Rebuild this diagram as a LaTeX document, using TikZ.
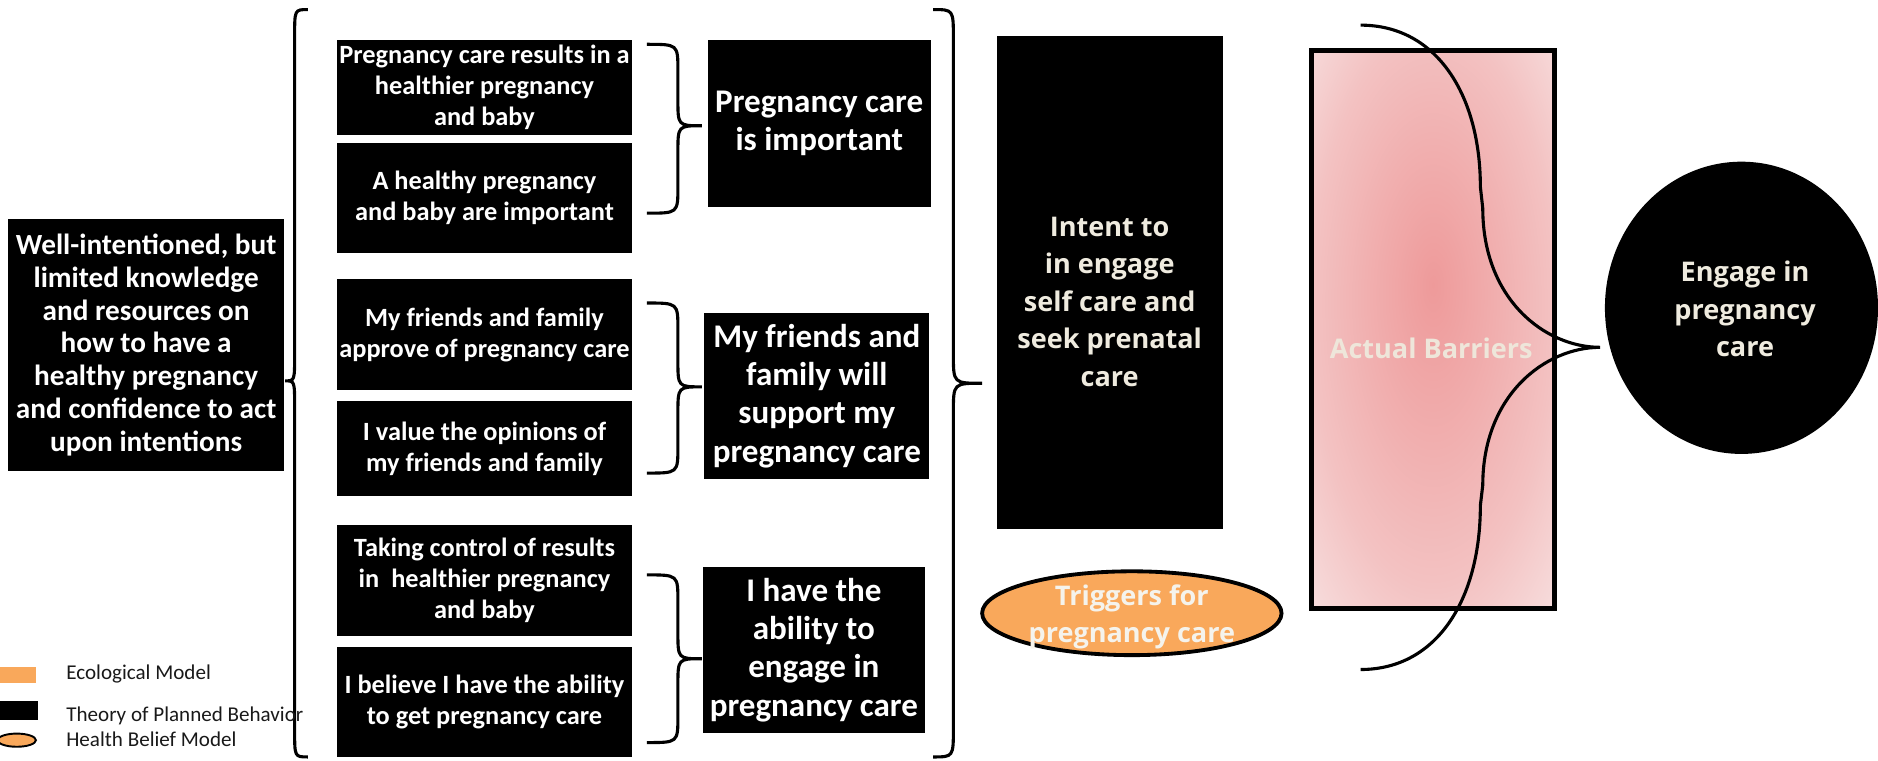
\documentclass[tikz,border=0pt]{standalone}
\usepackage{fontspec}
\setmainfont{Carlito}
\newfontfamily\osans{Open Sans}
\usetikzlibrary{shapes.geometric}
\definecolor{cream}{HTML}{EFEBDF}
\definecolor{orng}{HTML}{F9A85B}
\definecolor{pinkin}{HTML}{EE9A9A}
\definecolor{pinkmid}{HTML}{F1B0B0}
\definecolor{pinkedge}{HTML}{F3C2C2}
\definecolor{pinkout}{HTML}{F7DCDC}
\definecolor{bartext}{HTML}{EEE6DA}
\pgfdeclareradialshading{barrshade}{\pgfpoint{0bp}{4bp}}{color(0bp)=(pinkin); color(14bp)=(pinkmid); color(25bp)=(pinkedge); color(36bp)=(pinkout); color(50bp)=(pinkout)}
\newcommand{\DrawBrace}[7]{\draw[brc] (#1,#4) .. controls (#2,#4) .. (#2,#4+#7) -- (#2,#5-#7) .. controls (#2,#5) .. (#3,#5) .. controls (#2,#5) .. (#2,#5+#7) -- (#2,#6-#7) .. controls (#2,#6) .. (#1,#6);}
\begin{document}
\begin{tikzpicture}[x=0.5pt,y=-0.5pt,
  blk/.style={fill=black, draw=none, inner sep=0pt, align=center, text=white},
  lefttxt/.style={font=\fontsize{12.2}{13.7}\selectfont\bfseries},
  smalltxt/.style={font=\fontsize{11}{13}\selectfont\bfseries, minimum width=123.5pt},
  midtxt/.style={font=\fontsize{13.8}{16}\selectfont\bfseries},
  ostxt/.style={font=\fontsize{11.3}{15.6}\osans\bfseries, text=cream, align=center, inner sep=0pt},
  brc/.style={draw=black, line width=1.3pt},
  legtxt/.style={font=\fontsize{8.8}{10}\selectfont, text=black!90, anchor=west, inner sep=0pt}
]
\useasboundingbox (0,0) rectangle (1568,635);

% left box
\node[blk, lefttxt, minimum width=115pt, minimum height=105pt] (know) at (122,288)
  {Well-intentioned, but\\limited knowledge\\and resources on\\how to have a\\healthy pregnancy\\and confidence to act\\upon intentions};

% small boxes
\node[blk, smalltxt, minimum height=40pt] (b1) at (404.5,73) {Pregnancy care results in a\\healthier pregnancy\\and baby};
\node[blk, smalltxt, minimum height=46pt] (b2) at (404.5,165) {A healthy pregnancy\\and baby are important};
\node[blk, smalltxt, minimum height=46.5pt] (b3) at (404.5,279.5) {My friends and family\\approve of pregnancy care};
\node[blk, smalltxt, minimum height=39.5pt] (b4) at (404.5,374.5) {I value the opinions of\\my friends and family};
\node[blk, smalltxt, minimum height=46.5pt] (b5) at (404.5,484.5) {Taking control of results\\in\ \ healthier pregnancy\\and baby};
\node[blk, smalltxt, minimum height=46pt] (b6) at (404.5,586) {I believe I have the ability\\to get pregnancy care};

% middle boxes
\node[blk, midtxt, minimum width=93pt, minimum height=70pt] (m1) at (684,103) {Pregnancy care\\is important};
\node[blk, midtxt, minimum width=94pt, minimum height=69.5pt] (m2) at (682,330.5) {My friends and\\family will\\support my\\pregnancy care};
\node[blk, midtxt, minimum width=92.5pt, minimum height=69.5pt] (m3) at (679.5,542.5) {I have the\\ability to\\engage in\\pregnancy care};

% intent
\node[blk, minimum width=94.5pt, minimum height=206pt] (intent) at (926.5,236) {};
\node[ostxt] (intenttxt) at (926.5,252) {Intent to\\in engage\\self care and\\seek prenatal\\care};

% triggers
\node[ellipse, fill=orng, draw=black, line width=1.6pt, minimum width=125pt, minimum height=35pt, inner sep=0pt] (trig) at (945,512) {};
\node[ostxt, text=cream!60!white] (trigtxt) at (945,515) {Triggers for\\pregnancy care};

% barriers
\node[draw=black, line width=2pt, shading=barrshade, minimum width=101.5pt, minimum height=233pt, inner sep=0pt] (barr) at (1196.5,275) {};
\node[ostxt, text=bartext] (barrtxt) at (1195,291) {Actual Barriers};

% engage
\node[ellipse, fill=black, minimum width=114pt, minimum height=122pt, inner sep=0pt] (engage) at (1454,257) {};
\node[ostxt] (engtxt) at (1457,258) {Engage in\\pregnancy\\care};

% braces
\DrawBrace{257}{246}{238}{8}{318}{632}{22}
\DrawBrace{540}{566}{586}{37}{105}{178}{22}
\DrawBrace{540}{566}{586}{253}{323}{395}{22}
\DrawBrace{540}{566}{586}{480}{550}{620}{22}
\DrawBrace{779}{796}{820}{8}{320}{632}{24}
\draw[brc] (1136,21) .. controls (1200,21) and (1236,80) .. (1236,156) -- (1238,174)
  .. controls (1238,250) and (1290,290) .. (1336,290)
  .. controls (1290,290) and (1238,330) .. (1238,405) -- (1236,422)
  .. controls (1236,500) and (1200,559) .. (1136,559);

% legend
\node[fill=orng, minimum width=15pt, minimum height=6.5pt, inner sep=0pt] (lg1) at (15,563.5) {};
\node[fill=black, minimum width=16pt, minimum height=8pt, inner sep=0pt] (lg2) at (16,593) {};
\node[ellipse, fill=orng, draw=black, line width=0.8pt, minimum width=16pt, minimum height=5.5pt, inner sep=0pt] (lg3) at (14,618) {};
\node[legtxt] (lt1) at (55,563) {Ecological Model};
\node[legtxt] (lt2) at (55,598) {Theory of Planned Behavior};
\node[legtxt] (lt3) at (55,617) {Health Belief Model};
\end{tikzpicture}
\end{document}
